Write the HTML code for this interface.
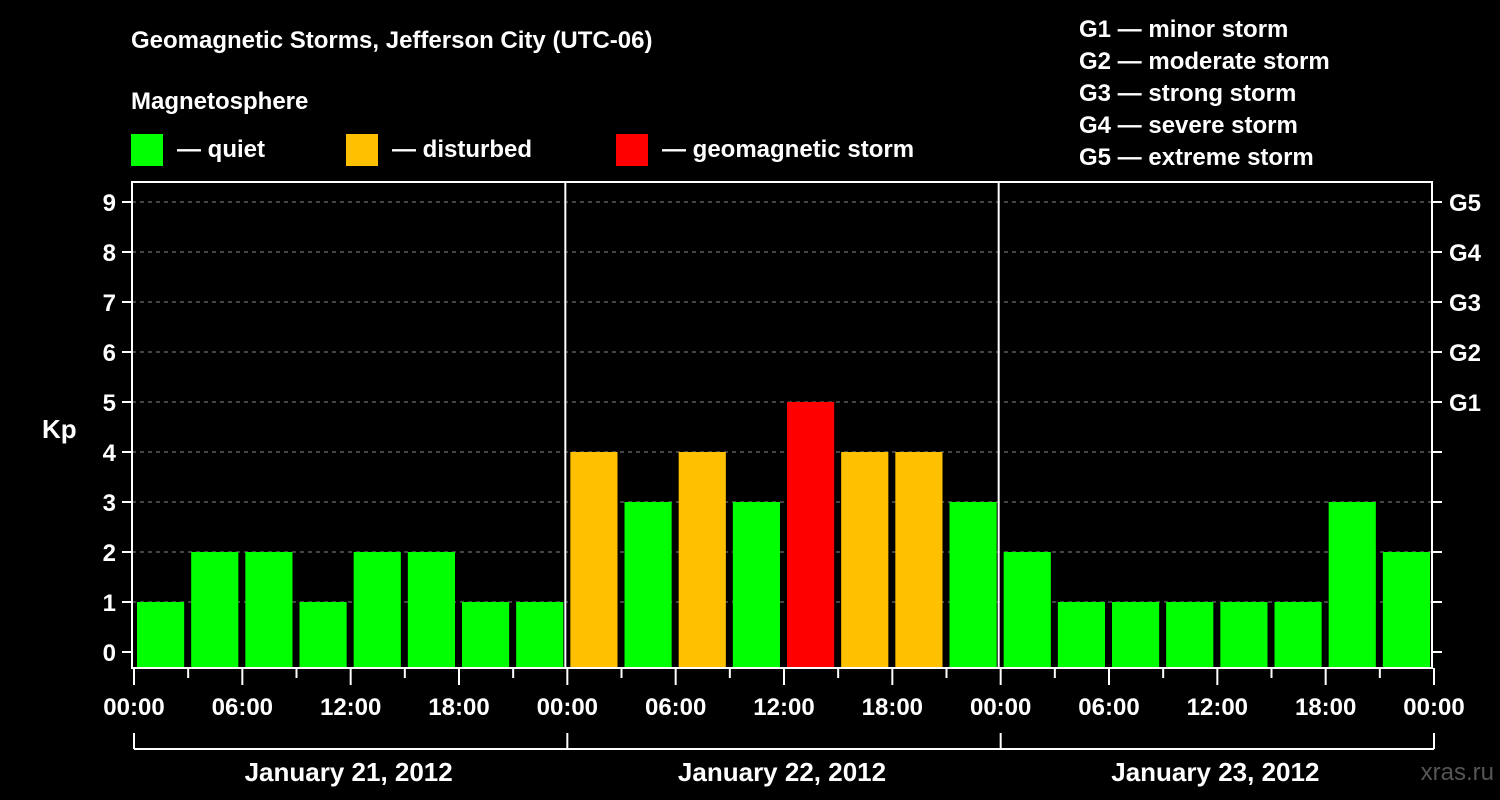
<!DOCTYPE html>
<html><head><meta charset="utf-8"><style>
html,body{margin:0;padding:0;background:#000;width:1500px;height:800px;overflow:hidden}
svg text{font-family:"Liberation Sans",Arial,sans-serif;font-weight:bold;fill:#fff}
</style></head><body>
<svg id="chart" width="1500" height="800" xmlns="http://www.w3.org/2000/svg">
<text x="131" y="48" font-size="24">Geomagnetic Storms, Jefferson City (UTC-06)</text>
<text x="131" y="109" font-size="24">Magnetosphere</text>
<rect x="131" y="134" width="32" height="32" fill="#00ff00"/>
<text x="177" y="157" font-size="24">— quiet</text>
<rect x="346" y="134" width="32" height="32" fill="#ffc000"/>
<text x="392" y="157" font-size="24">— disturbed</text>
<rect x="616" y="134" width="32" height="32" fill="#ff0000"/>
<text x="662" y="157" font-size="24">— geomagnetic storm</text>
<g font-size="24">
<text x="1079" y="37">G1 — minor storm</text>
<text x="1079" y="69">G2 — moderate storm</text>
<text x="1079" y="101">G3 — strong storm</text>
<text x="1079" y="133">G4 — severe storm</text>
<text x="1079" y="165">G5 — extreme storm</text>
</g>
<text x="42" y="438" font-size="26">Kp</text>
<text x="1494" y="780" font-size="24" text-anchor="end" fill="#555" style="fill:#555;font-weight:normal">xras.ru</text>
<g id="grid"></g><g id="bars"></g><g id="axes"></g>
</svg>
<script>
const kpValues=[1,2,2,1,2,2,1,1,4,3,4,3,5,4,4,3,2,1,1,1,1,1,3,2];
const yTicks=[0,1,2,3,4,5,6,7,8,9];
const gLabels=["G1","G2","G3","G4","G5"];
const gLevels=[5,6,7,8,9];
const hourLabels=["00:00","06:00","12:00","18:00","00:00","06:00","12:00","18:00","00:00","06:00","12:00","18:00","00:00"];
const dayLabels=["January 21, 2012","January 22, 2012","January 23, 2012"];
const L=132,R=1432,T=182,B=668,N=24,slot=(R-L)/N;
const y=v=>652-v*50;
const x=i=>L+i*slot;
const NS="http://www.w3.org/2000/svg";
function mk(p,tag,a){const e=document.createElementNS(NS,tag);for(const k in a)e.setAttribute(k,a[k]);p.appendChild(e);return e;}
const grid=document.getElementById('grid'),bars=document.getElementById('bars'),axes=document.getElementById('axes');
yTicks.forEach(v=>{
 if(v>0){const g=mk(grid,'line',{x1:L,x2:R,y1:y(v),y2:y(v),stroke:'#888','stroke-dasharray':'4,4','stroke-width':1});
 
 }
 mk(axes,'line',{x1:L-10,x2:L,y1:y(v),y2:y(v),stroke:'#fff','stroke-width':2});
 mk(axes,'line',{x1:R,x2:R+10,y1:y(v),y2:y(v),stroke:'#fff','stroke-width':2});
 const t=mk(axes,'text',{x:L-16,y:y(v)+9,'font-size':24,'text-anchor':'end'});t.textContent=v;
 
 
});
gLabels.forEach((g,i)=>{const t=mk(axes,'text',{x:R+17,y:y(gLevels[i])+9,'font-size':24});t.textContent=g;
 
 });
kpValues.forEach((v,i)=>{
 const c=v>=5?'#ff0000':(v>=4?'#ffc000':'#00ff00');
 const r=mk(bars,'rect',{x:x(i)+5,y:y(v),width:slot-7,height:B-y(v),fill:c});
 
 
});
mk(axes,'rect',{x:L,y:T,width:R-L,height:B-T,fill:'none',stroke:'#fff','stroke-width':2});
[1,2].forEach(d=>mk(axes,'line',{x1:x(d*8),x2:x(d*8),y1:T,y2:B,stroke:'#fff','stroke-width':2}));
for(let i=0;i<=N;i++){const maj=i%2==0;mk(axes,'line',{x1:x(i)+2,x2:x(i)+2,y1:B,y2:B+(maj?17:10),stroke:'#fff','stroke-width':2});}
hourLabels.forEach((h,i)=>{const t=mk(axes,'text',{x:x(i*2)+2,y:715,'font-size':24,'text-anchor':'middle'});t.textContent=h;
 
 });
mk(axes,'line',{x1:x(0)+2,x2:x(N)+2,y1:749,y2:749,stroke:'#fff','stroke-width':2});
for(let d=0;d<=3;d++)mk(axes,'line',{x1:x(d*8)+2,x2:x(d*8)+2,y1:733,y2:749,stroke:'#fff','stroke-width':2});
dayLabels.forEach((s,d)=>{const t=mk(axes,'text',{x:x(d*8+4),y:781,'font-size':26,'text-anchor':'middle'});t.textContent=s;
 
 });
</script>
</body></html>
